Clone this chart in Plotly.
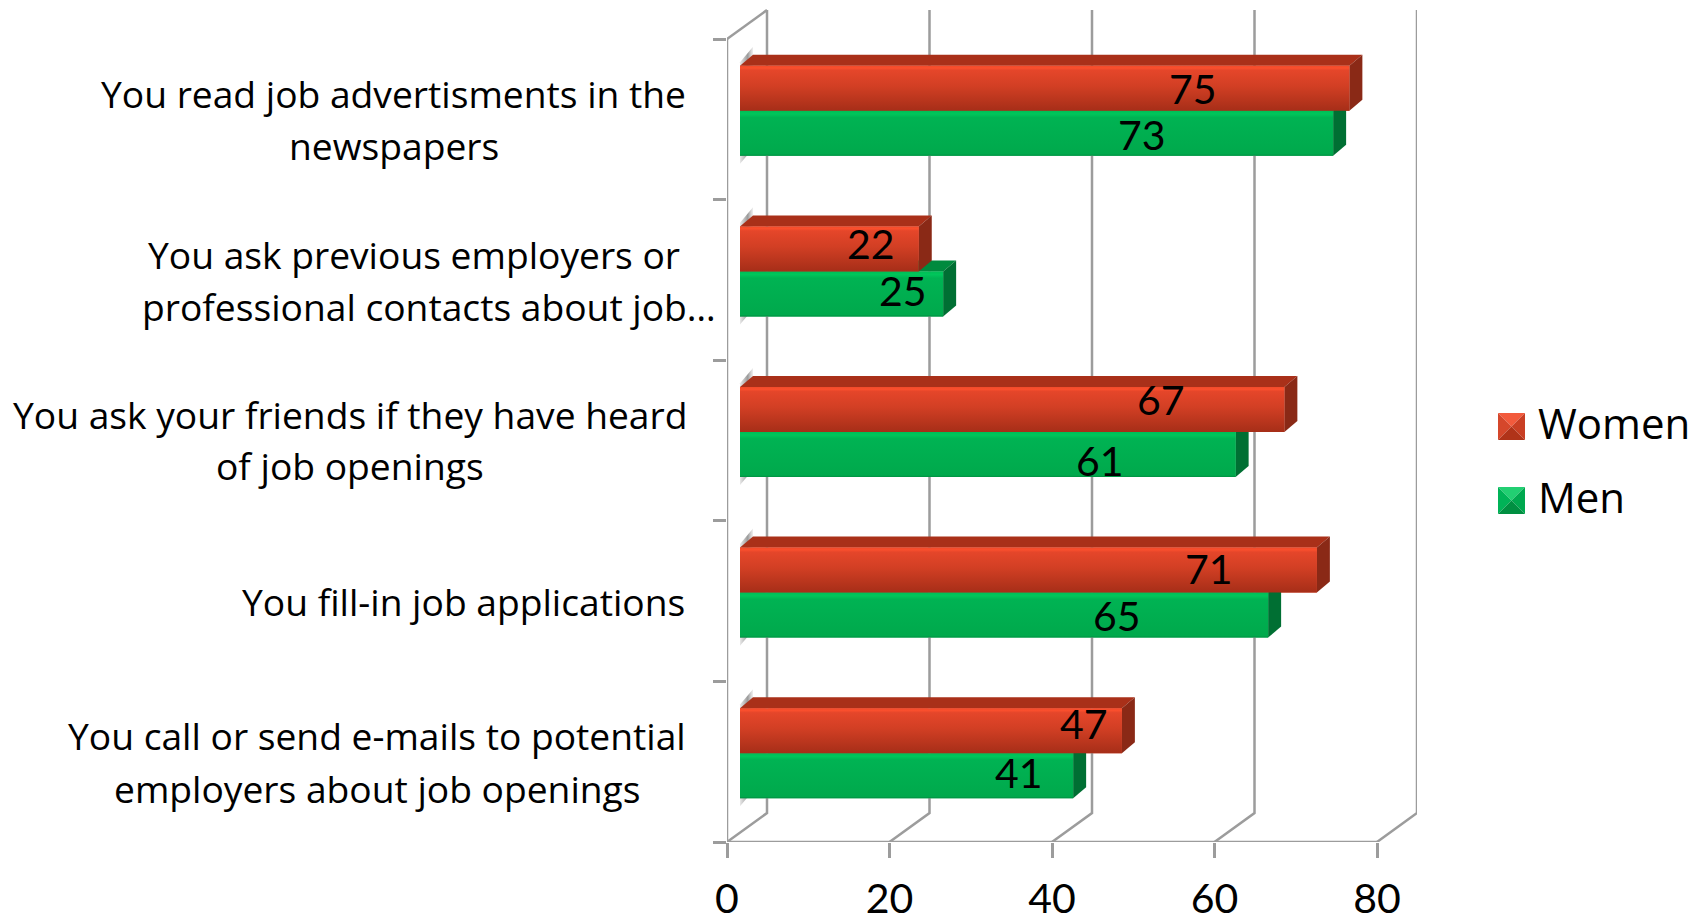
import plotly.graph_objects as go

# Survey answers, listed top to bottom as they appear on the chart
categories = [
    "You read job advertisments in the<br>newspapers",
    "You ask previous employers or<br>professional contacts about job…",
    "You ask your friends if they have heard<br>of job openings",
    "You fill-in job applications",
    "You call or send e-mails to potential<br>employers about job openings",
]
women = [75, 22, 67, 71, 47]
men = [73, 25, 61, 65, 41]
x_ticks = [0, 20, 40, 60, 80]

W, H = 1708, 924
FONT = "Open Sans"
NUM_FONT = "Lato"
GRID = "#9c9c9c"

# Pixel frame of the plot: value 0 on the front plane, and the top of the back wall
LEFT_PX, RIGHT_PX, BOTTOM_PX, TOP_PX = 727, 1417, 842, 9
PX_X = (1377 - 727) / 80
PX_Y = (842 - 39) / 5
WALL_DX, WALL_DY = 40 / PX_X, 29 / PX_Y   # depth of the floor and back wall
BAR_X0 = 13 / PX_X                        # bars start part way into the depth
EXT_DX, EXT_DY = 13 / PX_X, 11 / PX_Y     # extrusion of each bar
BAR_H = 45 / PX_Y
CENTER_SHIFT = 8.5 / PX_Y

n = len(categories)
centers = [n - 0.5 - i for i in range(n)]

WOMEN_STYLE = dict(
    mid="#d83f24", top="#a93019", side="#8a2916",
    face=[[0, "#a62e18"], [0.55, "#d23f24"], [0.9, "#e5462a"], [0.95, "#fa4f2d"], [1, "#f04a2a"]],
)
MEN_STYLE = dict(
    mid="#00b050", top="#008a3e", side="#006f33",
    face=[[0, "#008f41"], [0.04, "#00a94c"], [0.85, "#00b353"], [0.93, "#00c65b"], [1, "#00bd56"]],
)

fig = go.Figure()


def line(xs, ys):
    fig.add_trace(go.Scatter(x=xs, y=ys, mode="lines", showlegend=False, hoverinfo="skip",
                             line=dict(color=GRID, width=2.5), cliponaxis=False))


def poly(xs, ys, **style):
    fig.add_trace(go.Scatter(x=xs, y=ys, mode="lines", fill="toself", showlegend=False,
                             hoverinfo="skip", line=dict(width=0), cliponaxis=False, **style))


# Back wall verticals and floor diagonals
for v in x_ticks:
    line([v, v + WALL_DX, v + WALL_DX], [0, WALL_DY, n + WALL_DY])
line([0, WALL_DX], [n, n + WALL_DY])
line([0, 80], [0, 0])
line([0, 0], [0, n])

# Solid bars under the shaded faces
for name, vals, st, sign in (("Men", men, MEN_STYLE, -1), ("Women", women, WOMEN_STYLE, 1)):
    fig.add_trace(go.Bar(
        name=name, orientation="h", x=vals, base=BAR_X0,
        y=[c + CENTER_SHIFT + sign * BAR_H / 2 for c in centers],
        width=BAR_H, marker=dict(color=st["mid"], line=dict(width=0)),
        showlegend=False, hovertemplate=name + ": %{x}<extra></extra>",
    ))

# Soft shadow where each pair of bars meets the wall
for c in centers:
    y0 = c + CENTER_SHIFT - BAR_H - 0.05
    y1 = c + CENTER_SHIFT + BAR_H + EXT_DY + 0.05
    poly([BAR_X0, BAR_X0 + EXT_DX, BAR_X0 + EXT_DX, BAR_X0],
         [y0, y0 + EXT_DY * 1.4, y1, y1 - EXT_DY * 1.4],
         fillgradient=dict(type="horizontal",
                           colorscale=[[0, "rgba(110,110,110,0.15)"], [0.6, "rgba(110,110,110,0.7)"],
                                       [1, "rgba(150,150,150,0.15)"]]))


def extruded(vals, st, sign):
    # Top and side facets first, then the shaded front face
    for c, v in zip(centers, vals):
        mid = c + CENTER_SHIFT
        lo, hi = (mid - BAR_H, mid) if sign < 0 else (mid, mid + BAR_H)
        end = BAR_X0 + v
        poly([BAR_X0, end, end + EXT_DX, BAR_X0 + EXT_DX],
             [hi, hi, hi + EXT_DY, hi + EXT_DY], fillcolor=st["top"])
        poly([end, end + EXT_DX, end + EXT_DX, end],
             [lo, lo + EXT_DY, hi + EXT_DY, hi], fillcolor=st["side"])
        poly([BAR_X0, end, end, BAR_X0], [lo, lo, hi, hi],
             fillgradient=dict(type="vertical", colorscale=st["face"]))


extruded(men, MEN_STYLE, -1)
extruded(women, WOMEN_STYLE, 1)

annotations = []


def paper_text(text, px, py, size, anchor="center"):
    annotations.append(dict(text=text, xref="paper", yref="paper", x=px / W, y=1 - py / H,
                            xanchor=anchor, yanchor="middle", showarrow=False,
                            font=dict(family=FONT, size=size, color="#000000")))


# Category labels, set line by line around each block's centre
label_centers = [(393, 394), (414, 429), (350, 350), (0, 0), (377, 377)]
label_rows = [(93, 145), (254, 306), (414, 466), (601, 601), (735, 788)]
CAT_SIZE = 37.2
for i, cat in enumerate(categories):
    rows = cat.split("<br>")
    if len(rows) == 1:
        paper_text(rows[0], 687, label_rows[i][0], CAT_SIZE, anchor="right")
    else:
        for row, cx, cy in zip(rows, label_centers[i], label_rows[i]):
            paper_text(row, cx, cy, CAT_SIZE)

# Value labels sit inside the bars at chart-specific offsets from the bar end
women_label_dx = [-156, -48, -123, -108, -38]
women_label_dy = [0, 5, 10, 2, 7]
men_label_dx = [-191, -40, -136, -151, -54]
men_label_dy = [-1, 3, -6, 0, 3]
for vals, dxs, dys, sign in ((women, women_label_dx, women_label_dy, 1),
                             (men, men_label_dx, men_label_dy, -1)):
    for c, v, dx, dy in zip(centers, vals, dxs, dys):
        annotations.append(dict(
            text=str(v), x=BAR_X0 + v, y=c + CENTER_SHIFT + sign * BAR_H / 2,
            xref="x", yref="y", xshift=dx, yshift=dy, showarrow=False,
            xanchor="center", yanchor="middle",
            font=dict(family=NUM_FONT, size=41, color="#000000"),
        ))

# Legend: bevelled swatches with their names
shapes = []


def facet(path, color):
    shapes.append(dict(type="path", xref="paper", yref="paper", path=path,
                       fillcolor=color, line=dict(width=0), layer="above"))


def swatch(x0, y0, size, light, mid, dark, side):
    fx = lambda p: p / W
    fy = lambda p: 1 - p / H
    x1, y1, cx, cy = x0 + size, y0 + size, x0 + size / 2, y0 + size / 2
    tri = lambda a, b, c: "M{} {} L{} {} L{} {} Z".format(fx(a[0]), fy(a[1]), fx(b[0]), fy(b[1]), fx(c[0]), fy(c[1]))
    facet(tri((x0, y0), (x1, y0), (cx, cy)), light)
    facet(tri((x0, y0), (x0, y1), (cx, cy)), mid)
    facet(tri((x1, y0), (x1, y1), (cx, cy)), side)
    facet(tri((x0, y1), (x1, y1), (cx, cy)), dark)


swatch(1498, 413, 27, "#f25a3c", "#d5472b", "#b03319", "#c93f24")
swatch(1498, 487, 27, "#22cf72", "#00b357", "#008f41", "#00a84f")
paper_text("Women", 1536, 422, 42, anchor="left")
paper_text("Men", 1536, 496, 42, anchor="left")

fig.update_layout(
    width=W, height=H, autosize=False, barmode="overlay",
    margin=dict(l=0, r=0, t=0, b=0, autoexpand=False), paper_bgcolor="white", plot_bgcolor="white",
    showlegend=False, annotations=annotations, shapes=shapes,
    xaxis=dict(domain=[LEFT_PX / W, RIGHT_PX / W],
               range=[0, (RIGHT_PX - LEFT_PX) / PX_X],
               tickmode="array", tickvals=x_ticks, ticktext=[str(t) for t in x_ticks],
               ticks="outside", ticklen=15, tickwidth=2.5, tickcolor=GRID,
               ticklabelstandoff=6,
               tickfont=dict(family=NUM_FONT, size=41, color="#000000"),
               showgrid=False, zeroline=False, showline=False),
    yaxis=dict(domain=[1 - BOTTOM_PX / H, 1 - TOP_PX / H],
               range=[0, (BOTTOM_PX - TOP_PX) / PX_Y],
               tickmode="array", tickvals=list(range(n + 1)), showticklabels=False,
               ticks="outside", ticklen=13, tickwidth=2.5, tickcolor=GRID,
               showgrid=False, zeroline=False, showline=False),
)

fig.write_html("out.html")
